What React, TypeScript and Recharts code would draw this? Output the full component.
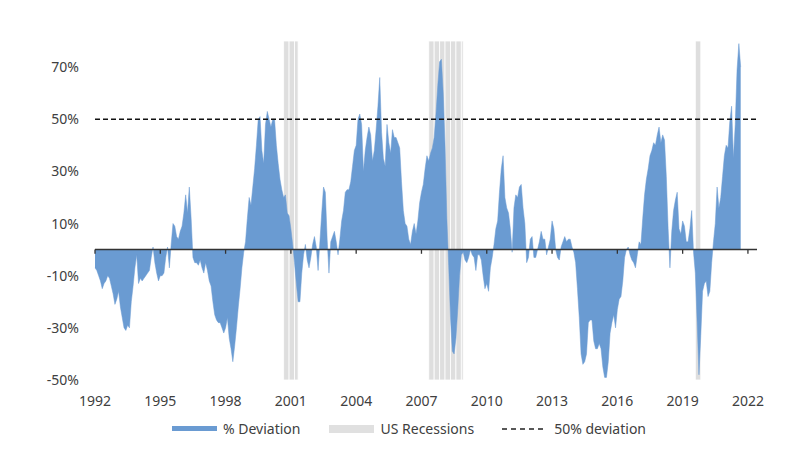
import { AreaChart, Area, XAxis, YAxis, ReferenceLine, ReferenceArea, Legend } from "recharts";

// monthly % deviation, starting Jan 1992
const deviation: number[] = [
  -7, -8, -10, -12, -15, -13, -12, -10, -11, -14, -17, -21,
  -19, -16, -22, -26, -30, -31, -29, -30, -20, -14, -7, -2,
  -13, -11, -12, -11, -10, -9, -8, -3, 1, -5, -9, -12,
  -10, -10, -9, -3, 1, -7, 2, 10, 9, 5, 4, 7,
  9, 14, 21, 14, 24, 12, -3, -5, -5, -6, -4, -7,
  -9, -5, -8, -12, -14, -20, -25, -27, -28, -28, -30, -32,
  -30, -26, -34, -38, -43, -37, -30, -22, -15, -7, -1, 3,
  12, 20, 17, 24, 31, 40, 50, 51, 38, 33, 48, 53,
  50, 47, 50, 50, 40, 33, 27, 23, 20, 21, 14, 13,
  8, 2, -5, -13, -20, -20, -9, -2, 2, -4, -7, -3,
  2, 5, 1, -8, 3, 14, 24, 22, 4, -9, 3, 5,
  7, 3, -2, 4, 11, 15, 22, 23, 23, 26, 32, 38,
  40, 50, 52, 48, 30, 38, 43, 47, 44, 34, 38, 46,
  55, 66, 45, 35, 32, 48, 41, 37, 46, 43, 43, 41,
  39, 26, 15, 10, 9, 4, 2, 7, 10, 6, 11, 18,
  22, 25, 31, 36, 34, 37, 39, 43, 52, 63, 72, 73,
  60, 40, 12, -6, -26, -39, -40, -34, -23, -10, -2, -1,
  -4, -5, -3, 0, -2, -3, -8, -2, -2, -4, -10, -15,
  -13, -16, -7, -3, 2, 8, 11, 22, 31, 36, 20, 16,
  14, 8, -1, 16, 21, 20, 24, 25, 16, 10, -5, -3,
  4, 5, -3, -3, 0, 3, 7, 4, 4, -2, 1, 4,
  11, 8, 0, -3, -4, 1, 3, 5, 3, 4, 4, 1,
  -1, -5, -15, -26, -40, -44, -43, -40, -28, -27, -27, -35,
  -38, -38, -36, -38, -45, -49, -49, -43, -32, -28, -25, -30,
  -23, -19, -18, -12, -3, 0, 1, -2, -4, -5, -7, -2,
  3, 2, 12, 21, 27, 31, 36, 38, 41, 40, 44, 47,
  41, 44, 42, 28, 8, -7, 7, 15, 19, 22, 8, 6,
  11, 9, 3, 3, 8, 15, -1, -9, -28, -48, -33, -16,
  -13, -12, -18, -16, -5, 3, 10, 24, 16, 20, 28, 36,
  40, 39, 49, 55, 35, 48, 69, 79, 70,
];

// recession periods as [first month, month after last] (months since Jan 1992)
const recessions: [number, number][] = [
  [104, 112],
  [184, 203],
  [331, 334],
];

const xTicks = [0, 36, 72, 108, 144, 180, 216, 252, 288, 324, 360];
const yTicks = [-50, -30, -10, 10, 30, 50, 70];
const threshold = 50;

const data = deviation.map((v, i) => ({ m: i, v }));

// split each recession into 3-month stripes, like the column fill in the original
const stripes: [number, number][] = [];
recessions.forEach(([a, b]) => {
  for (let m = a; m < b; m += 3) stripes.push([m, Math.min(m + 3, b)]);
});

const font = "'Noto Sans', sans-serif";
const textColor = "#404040";
const blue = "#6a9bd2";

const LegendContent = () => (
  <div
    style={{
      display: "flex",
      alignItems: "center",
      marginLeft: 164,
      fontFamily: font,
      fontSize: 14,
      color: textColor,
    }}
  >
    <span style={{ width: 45, height: 5, background: blue, display: "inline-block" }} />
    <span style={{ marginLeft: 6 }}>% Deviation</span>
    <span style={{ width: 45, height: 8, background: "#e0e0e0", display: "inline-block", marginLeft: 29 }} />
    <span style={{ marginLeft: 6 }}>US Recessions</span>
    <svg width={44} height={6} style={{ marginLeft: 28 }}>
      <line x1={0} y1={3} x2={44} y2={3} stroke="#222" strokeWidth={1.5} strokeDasharray="5 4" />
    </svg>
    <span style={{ marginLeft: 8 }}>50% deviation</span>
  </div>
);

export default function App() {
  return (
    <AreaChart
      width={778}
      height={448}
      data={data}
      margin={{ top: 33, right: 29, left: 27, bottom: 27 }}
    >
      <XAxis
        dataKey="m"
        type="number"
        domain={[0, 365]}
        ticks={xTicks}
        tickFormatter={(m: number) => String(1992 + m / 12)}
        axisLine={false}
        tickLine={false}
        tickSize={0}
        tickMargin={16}
        height={30}
        tick={{ fill: textColor, fontSize: 14, fontFamily: font }}
      />
      <YAxis
        type="number"
        domain={[-50, 80]}
        ticks={yTicks}
        tickFormatter={(v: number) => `${v}%`}
        axisLine={false}
        tickLine={false}
        tickSize={0}
        tickMargin={16}
        width={60}
        tick={{ fill: textColor, fontSize: 14, fontFamily: font }}
      />
      {stripes.map(([a, b]) => (
        <ReferenceArea
          key={a}
          x1={a}
          x2={b}
          y1={-50}
          y2={80}
          fill="#dedede"
          fillOpacity={1}
          stroke="#fff"
          strokeWidth={0.8}
        />
      ))}
      <Area
        type="linear"
        dataKey="v"
        baseValue={0}
        fill={blue}
        fillOpacity={1}
        stroke={blue}
        strokeWidth={0.5}
        isAnimationActive={false}
      />
      <ReferenceLine y={threshold} stroke="#111" strokeWidth={1.5} strokeDasharray="5 3" />
      <ReferenceLine y={0} stroke="#333" strokeWidth={1.5} />
      {xTicks.map((t) => (
        <ReferenceLine
          key={t}
          segment={[
            { x: t, y: 0 },
            { x: t, y: -1.6 },
          ]}
          stroke="#333"
          strokeWidth={1.3}
        />
      ))}
      <Legend
        verticalAlign="bottom"
        content={<LegendContent />}
        wrapperStyle={{ left: 0, width: 778, bottom: 18 }}
      />
    </AreaChart>
  );
}
